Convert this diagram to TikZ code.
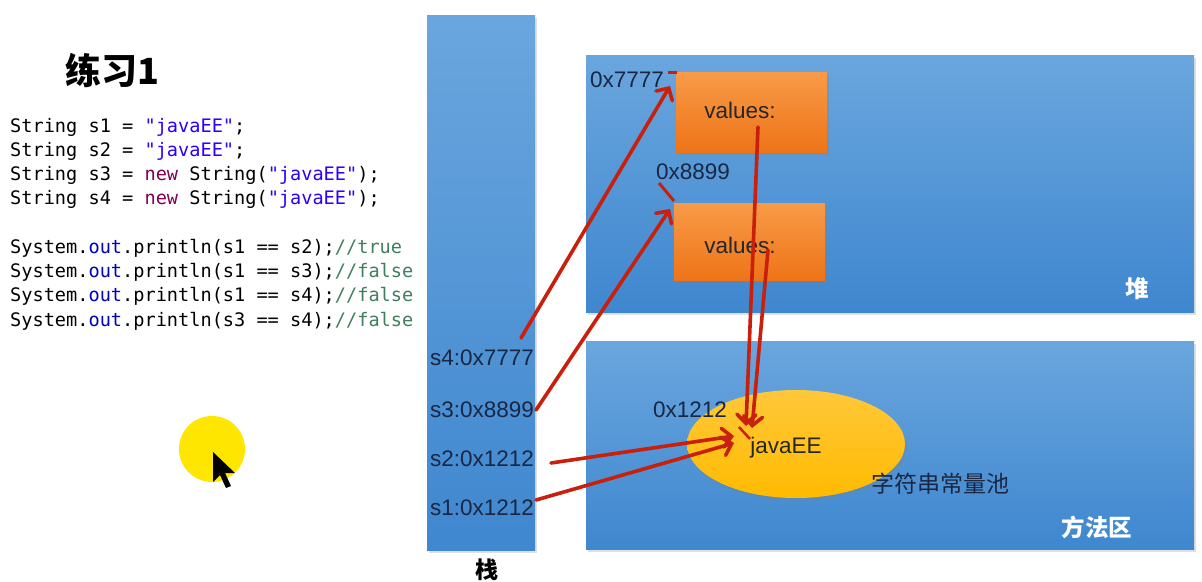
\documentclass[tikz,border=0pt]{standalone}
\usepackage{fontspec}
\setmainfont{Liberation Sans}
\setmonofont{DejaVu Sans Mono}
\newfontfamily\cjk{Noto Sans CJK SC}
\usetikzlibrary{arrows.meta,shadows}
\definecolor{boxbluetop}{HTML}{6AA6DE}
\definecolor{boxbluebot}{HTML}{3F87CF}
\definecolor{orangetop}{HTML}{F89A48}
\definecolor{orangebot}{HTML}{EE7418}
\definecolor{goldtop}{HTML}{FFC83A}
\definecolor{goldbot}{HTML}{FFBA00}
\definecolor{labelcol}{HTML}{1A2744}
\definecolor{arrowred}{HTML}{C8200C}
\definecolor{codestr}{HTML}{2A00FF}
\definecolor{codekw}{HTML}{7F0055}
\definecolor{codefld}{HTML}{0000C0}
\definecolor{codecmt}{HTML}{3F7F5F}
\definecolor{cursoryellow}{HTML}{FFE600}
\tikzset{
  region/.style={draw=none, top color=boxbluetop, bottom color=boxbluebot,
    drop shadow={shadow xshift=2pt, shadow yshift=-3pt, opacity=0.25}},
  heapbox/.style={draw=none, top color=orangetop, bottom color=orangebot,
    drop shadow={shadow xshift=2pt, shadow yshift=-3pt, opacity=0.3}},
  lbl/.style={text=labelcol, font=\fontsize{22.5}{26}\selectfont, inner sep=0pt},
  codeline/.style={anchor=base west, inner sep=0pt, font=\ttfamily\fontsize{18.6}{22}\selectfont},
  areatitle/.style={text=white, font=\cjk\bfseries\fontsize{23.5}{26}\selectfont, inner sep=0pt},
  ref/.style={draw=arrowred, line width=3.6pt, line cap=round,
    -{Straight Barb[length=9pt,width=19pt,line width=3.6pt,line cap=round]}},
  redtick/.style={draw=arrowred, line width=3pt},
}
\newcommand{\jstr}[1]{\textcolor{codestr}{#1}}
\newcommand{\jkw}[1]{\textcolor{codekw}{#1}}
\newcommand{\jfld}[1]{\textcolor{codefld}{#1}}
\newcommand{\jcmt}[1]{\textcolor{codecmt}{#1}}
\begin{document}
\begin{tikzpicture}[x=1pt,y=-1pt]
\useasboundingbox (0,0) rectangle (1202,581);
\fill[white] (0,0) rectangle (1202,581);

% title
\node[inner sep=0pt, font=\cjk\bfseries\fontsize{36}{40}\selectfont] (title) at (112,70) {练习1};

% code
\node[codeline] (c1) at (10,132) {String s1 = \jstr{"javaEE"};};
\node[codeline] (c2) at (10,156) {String s2 = \jstr{"javaEE"};};
\node[codeline] (c3) at (10,180) {String s3 = \jkw{new} String(\jstr{"javaEE"});};
\node[codeline] (c4) at (10,204) {String s4 = \jkw{new} String(\jstr{"javaEE"});};
\node[codeline] (c5) at (10,253) {System.\jfld{out}.println(s1 == s2);\jcmt{//true}};
\node[codeline] (c6) at (10,277) {System.\jfld{out}.println(s1 == s3);\jcmt{//false}};
\node[codeline] (c7) at (10,301) {System.\jfld{out}.println(s1 == s4);\jcmt{//false}};
\node[codeline] (c8) at (10,326) {System.\jfld{out}.println(s3 == s4);\jcmt{//false}};

% cursor highlight
\fill[cursoryellow] (212,449) circle (33);
\fill[black] (213,452) -- (213,482) -- (220,475) -- (226,488) -- (231,486) -- (225,473) -- (235,473) -- cycle;

% stack
\path[region] (427,15) rectangle (535,550);
\node[inner sep=0pt, font=\cjk\bfseries\fontsize{23}{26}\selectfont] (stacklbl) at (487,570) {栈};

% heap
\path[region] (586,55) rectangle (1194,312);
\node[areatitle] (heaplbl) at (1137,289) {堆};

% method area
\path[region] (586,341) rectangle (1194,549);
\node[areatitle] (methodlbl) at (1097,527) {方法区};

% heap objects
\path[heapbox] (676,72) rectangle (827,152);
\node[lbl, text=black!85] (v1) at (740,110) {values:};
\path[heapbox] (674,203) rectangle (825,280);
\node[lbl, text=black!85] (v2) at (740,245) {values:};
\node[lbl] (a7777) at (627,80) {0x7777};
\node[lbl] (a8899) at (693,172) {0x8899};

% string pool
\shade[top color=goldtop, bottom color=goldbot, drop shadow={shadow xshift=2pt, shadow yshift=-3pt, opacity=0.25}] (796,444) ellipse (109 and 54);
\node[lbl, text=black!85] (javaee) at (786,448) {javaEE};
\node[lbl] (a1212) at (690,410) {0x1212};
\node[lbl, font=\cjk\fontsize{23}{26}\selectfont] (pool) at (940,484) {字符串常量池};

% stack entries
\node[lbl] (s4) at (482,358) {s4:0x7777};
\node[lbl] (s3) at (482,410) {s3:0x8899};
\node[lbl] (s2) at (482,459) {s2:0x1212};
\node[lbl] (s1) at (482,508) {s1:0x1212};

% connector end points
\coordinate (s4from) at (521,338);
\coordinate (s3from) at (536,410);
\coordinate (s2from) at (551,463);
\coordinate (s1from) at (536,500);
\coordinate (obj1) at (670,86);
\coordinate (obj2) at (670,209);
\coordinate (poolA) at (734,436);
\coordinate (poolB) at (734,443);
\coordinate (v1from) at (758,127);
\coordinate (v2from) at (768,250);
\coordinate (poolC) at (746,426);
\coordinate (poolD) at (752,428);

\draw[ref] (s4from) -- (obj1);
\draw[ref] (s3from) -- (obj2);
\draw[ref] (s2from) -- (poolA);
\draw[ref] (s1from) -- (poolB);
\draw[ref] (v1from) -- (poolC);
\draw[ref] (v2from) -- (poolD);

% small red marks
\coordinate (m1a) at (668,72);
\coordinate (m1b) at (677,72);
\draw[redtick] (m1a) -- (m1b);
\coordinate (m2a) at (659,183);
\coordinate (m2b) at (674,201);
\draw[redtick] (m2a) -- (m2b);
\coordinate (m3a) at (739,427);
\coordinate (m3b) at (750,439);
\draw[redtick, line width=2.5pt] (m3a) -- (m3b);
\end{tikzpicture}
\end{document}
